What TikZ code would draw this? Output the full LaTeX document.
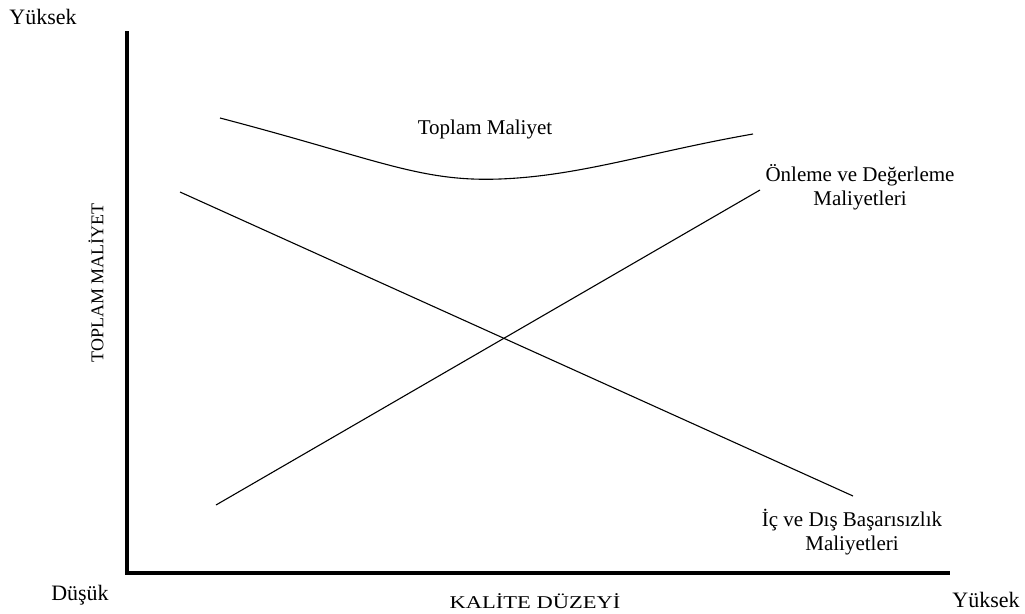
\documentclass[tikz,border=0pt]{standalone}
\usepackage{fontspec}
\setmainfont{Liberation Serif}
\begin{document}
\begin{tikzpicture}[x=1pt,y=-1pt,
  axisline/.style={line width=3.5pt},
  costline/.style={line width=1.1pt},
  lbl/.style={inner sep=0pt,font=\fontsize{21}{24}\selectfont},
  endlbl/.style={inner sep=0pt,font=\fontsize{22}{25}\selectfont},
  lbltwo/.style={inner sep=0pt,align=center,font=\fontsize{21}{24}\selectfont},
  axislbl/.style={inner sep=0pt,font=\fontsize{18}{21}\selectfont}]
\useasboundingbox (0,0) rectangle (1025,613);
% axes
\coordinate (top) at (127,31);
\coordinate (origin) at (127,573);
\coordinate (right) at (950,573);
\draw[axisline] (top) -- (origin) -- (right);
% cost curves
\coordinate (fs) at (180,192);
\coordinate (fe) at (853,496);
\coordinate (ps) at (216,505);
\coordinate (pe) at (760,190);
\coordinate (ts) at (220,118);
\coordinate (tm) at (500,179);
\coordinate (te) at (753,134);
\draw[costline] (fs) -- (fe);
\draw[costline] (ps) -- (pe);
\draw[costline] (ts) .. controls (380,160) and (420,182) .. (tm)
                     .. controls (580,176) and (650,152) .. (te);
% labels
\node[endlbl] (yhigh) at (43,17) {Yüksek};
\node[endlbl] (xlow) at (80,595) {Düşük};
\node[endlbl] (xhigh) at (986,600) {Yüksek};
\node[axislbl,xscale=1.25] (xname) at (535,601) {KALİTE DÜZEYİ};
\node[axislbl,rotate=90] (yname) at (96,283) {TOPLAM MALİYET};
\node[lbl] (total) at (485,129) {Toplam Maliyet};
\node[lbltwo] (prev) at (860,187) {Önleme ve Değerleme\\Maliyetleri};
\node[lbltwo] (fail) at (852,532) {İç ve Dış Başarısızlık\\Maliyetleri};
\end{tikzpicture}
\end{document}
